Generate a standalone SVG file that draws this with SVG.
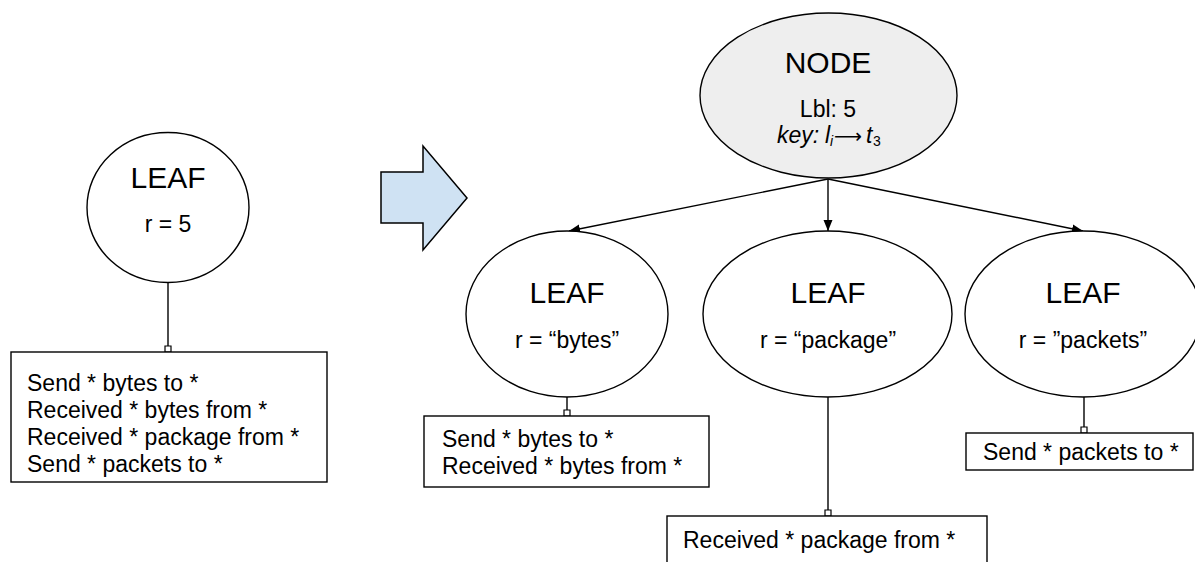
<svg xmlns="http://www.w3.org/2000/svg" width="1195" height="562" viewBox="0 0 1195 562">
<defs>
<style>
.shape{stroke:#000;stroke-width:1.4;fill:#fff}
.node{fill:#eeeeee}
.big{font-family:"Liberation Sans",Arial,sans-serif;font-size:30px;fill:#000}
.txt{font-family:"Liberation Sans",Arial,sans-serif;font-size:23px;fill:#000}
.it{font-style:italic}
.sub{font-size:14px}
.conn{stroke:#000;stroke-width:1.4;fill:none}
</style>
<marker id="arr" markerUnits="userSpaceOnUse" markerWidth="12" markerHeight="10" refX="11" refY="5" orient="auto">
<path d="M0,0.5 L11,5 L0,9.5 z" fill="#000"/>
</marker>
<marker id="sq" markerUnits="userSpaceOnUse" markerWidth="9" markerHeight="9" refX="7" refY="4.5" orient="auto">
<rect x="1" y="1.5" width="6" height="6" fill="#fff" stroke="#000" stroke-width="1.2"/>
</marker>
</defs>
<rect width="1195" height="562" fill="#fff"/>

<g id="connectors">
<line class="conn" x1="168" y1="282" x2="168" y2="352" marker-end="url(#sq)"/>
<line class="conn" x1="828" y1="179" x2="569" y2="231" marker-end="url(#arr)"/>
<line class="conn" x1="828" y1="179" x2="828" y2="231" marker-end="url(#arr)"/>
<line class="conn" x1="828" y1="179" x2="1083" y2="231" marker-end="url(#arr)"/>
<line class="conn" x1="567" y1="397" x2="567" y2="416" marker-end="url(#sq)"/>
<line class="conn" x1="828" y1="397" x2="828" y2="516" marker-end="url(#sq)"/>
<line class="conn" x1="1084" y1="397" x2="1084" y2="433" marker-end="url(#sq)"/>
</g>

<g id="transform-arrow">
<polygon points="381,172 423,172 423,146 467,198 423,250 423,223 381,223" fill="#cfe2f3" stroke="#000" stroke-width="1.5" stroke-linejoin="miter"/>
</g>

<g id="leaf-root">
<ellipse class="shape" cx="168" cy="207.5" rx="81" ry="75"/>
<text class="big" x="168" y="188" text-anchor="middle">LEAF</text>
<text class="txt" x="168" y="232" text-anchor="middle">r = 5</text>
</g>

<g id="leaf-root-box">
<rect class="shape" x="11" y="352" width="316" height="130"/>
<text class="txt" x="27" y="391">Send * bytes to *</text>
<text class="txt" x="27" y="418">Received * bytes from *</text>
<text class="txt" x="27" y="445">Received * package from *</text>
<text class="txt" x="27" y="472">Send * packets to *</text>
</g>

<g id="node">
<ellipse class="shape node" cx="828.5" cy="95.5" rx="128.5" ry="82.5"/>
<text class="big" x="828" y="73" text-anchor="middle">NODE</text>
<text class="txt" x="828" y="117" text-anchor="middle">Lbl: 5</text>
<text class="txt"><tspan class="it" x="777" y="143">key:</tspan><tspan class="it" x="825" y="143">l</tspan><tspan class="sub it" x="830" y="146">i</tspan><tspan x="834" y="143" font-family="'DejaVu Sans',sans-serif" font-size="20" textLength="28" lengthAdjust="spacingAndGlyphs">⟶</tspan><tspan class="it" x="866" y="143">t</tspan><tspan class="sub" x="873" y="146">3</tspan></text>
</g>

<g id="leaf-bytes">
<ellipse class="shape" cx="567" cy="314" rx="101" ry="83"/>
<text class="big" x="567" y="303" text-anchor="middle">LEAF</text>
<text class="txt" x="567" y="348" text-anchor="middle">r = “bytes”</text>
</g>

<g id="leaf-package">
<ellipse class="shape" cx="827.5" cy="314" rx="124.5" ry="83"/>
<text class="big" x="828" y="303" text-anchor="middle">LEAF</text>
<text class="txt" x="828" y="348" text-anchor="middle">r = “package”</text>
</g>

<g id="leaf-packets">
<ellipse class="shape" cx="1083" cy="314" rx="118" ry="83"/>
<text class="big" x="1083" y="303" text-anchor="middle">LEAF</text>
<text class="txt" x="1083" y="348" text-anchor="middle">r = ”packets”</text>
</g>

<g id="box-bytes">
<rect class="shape" x="424" y="416" width="285" height="71"/>
<text class="txt" x="442" y="447">Send * bytes to *</text>
<text class="txt" x="442" y="474">Received * bytes from *</text>
</g>

<g id="box-package">
<rect class="shape" x="667" y="516" width="320" height="60"/>
<text class="txt" x="683" y="548">Received * package from *</text>
</g>

<g id="box-packets">
<rect class="shape" x="966" y="433" width="227" height="37"/>
<text class="txt" x="983" y="460">Send * packets to *</text>
</g>
</svg>
